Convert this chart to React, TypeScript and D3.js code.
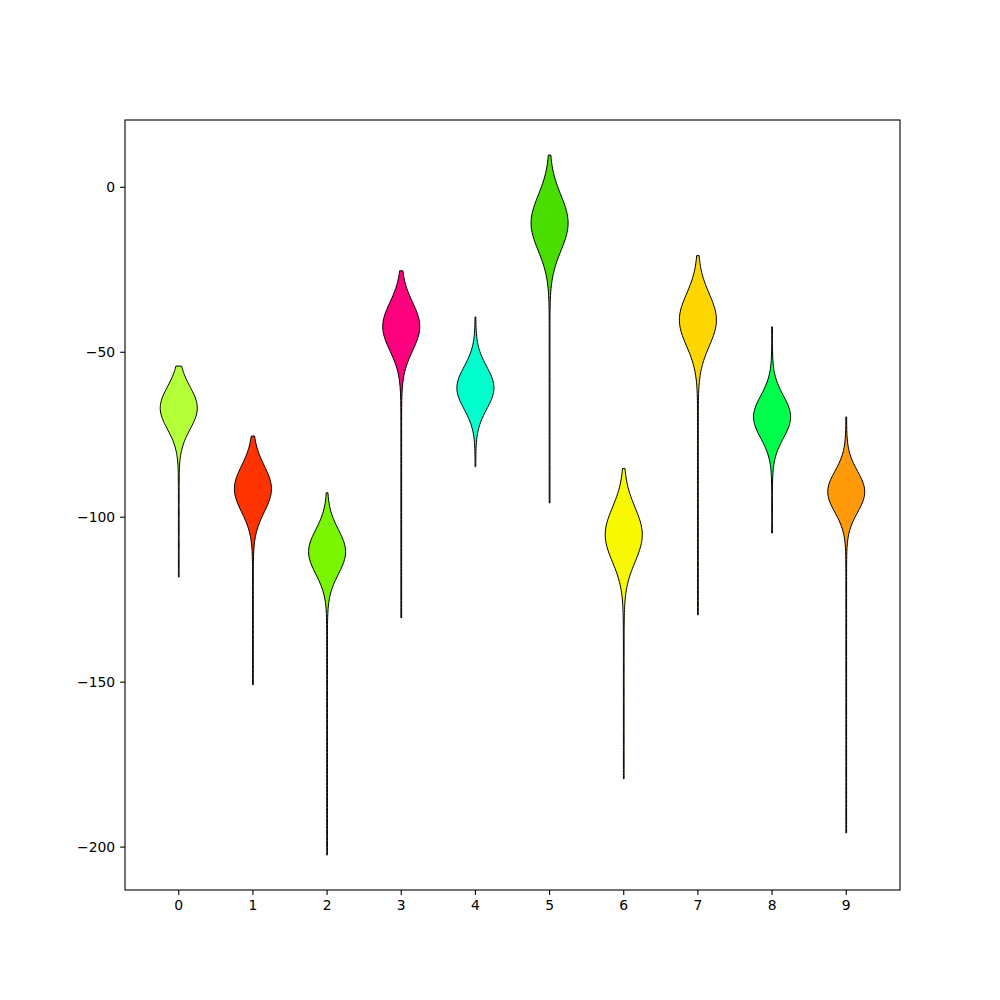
import React from "react";
import * as d3 from "d3";

// Per-violin values (data units)
const categories = [0, 1, 2, 3, 4, 5, 6, 7, 8, 9];
const maxVals = [-54.2, -75.4, -92.6, -25.3, -39.3, 9.8, -85.2, -20.7, -42.3, -69.6];
const modeVals = [-66.9, -91.4, -110.5, -42.2, -60.8, -10.8, -105.3, -40.2, -69.6, -92.3];
const spreadVals = [6.4, 7.0, 6.7, 7.3, 6.4, 8.4, 8.2, 7.9, 6.4, 6.2];
const minVals = [-118.1, -150.8, -202.4, -130.5, -84.7, -95.7, -179.3, -129.6, -104.8, -195.7];
const colors = [
  "#b3ff38",
  "#ff3300",
  "#7af500",
  "#ff007f",
  "#00ffcc",
  "#4ade00",
  "#f8f800",
  "#ffd700",
  "#00ff4c",
  "#ff9a0b",
];
const yTicks = [0, -50, -100, -150, -200];

const W = 1000;
const H = 1000;
const M = { left: 125, right: 100, top: 120, bottom: 110 };

export default function App() {
  const x = d3
    .scaleLinear()
    .domain([-0.725, 9.725])
    .range([M.left, W - M.right]);
  const dataMin = d3.min(minVals) as number;
  const dataMax = d3.max(maxVals) as number;
  const pad = (dataMax - dataMin) * 0.05;
  const y = d3
    .scaleLinear()
    .domain([dataMin - pad, dataMax + pad])
    .range([H - M.bottom, M.top]);

  const halfWidth = 0.25;
  const floor = 0.02;

  const violins = categories.map((c, i) => {
    const lo = minVals[i];
    const hi = maxVals[i];
    const pts = d3.range(100).map((k) => lo + ((hi - lo) * k) / 99);
    const prof = pts.map((t) => {
      const g = Math.exp(-((t - modeVals[i]) ** 2) / (2 * spreadVals[i] ** 2));
      return { t, w: (halfWidth * (g + floor)) / (1 + floor) };
    });
    const area = d3
      .area<{ t: number; w: number }>()
      .x0((d) => x(c - d.w))
      .x1((d) => x(c + d.w))
      .y((d) => y(d.t));
    return { c, d: area(prof) as string, color: colors[i] };
  });

  const font = "'DejaVu Sans', sans-serif";
  const fs = 13.9;
  const tick = 4.9;

  return (
    <svg
      width={W}
      height={H}
      style={{ position: "absolute", left: 0, top: 0, background: "#fff" }}
      fontFamily={font}
    >
      <rect x={0} y={0} width={W} height={H} fill="#fff" />
      {violins.map((v) => (
        <path
          key={v.c}
          d={v.d + "Z"}
          fill={v.color}
          stroke="#000"
          strokeWidth={1}
          strokeLinejoin="miter"
        />
      ))}
      <rect
        x={M.left}
        y={M.top}
        width={W - M.left - M.right}
        height={H - M.top - M.bottom}
        fill="none"
        stroke="#000"
        strokeWidth={1.1}
      />
      {yTicks.map((t) => (
        <g key={t}>
          <line
            x1={M.left - tick}
            x2={M.left}
            y1={y(t)}
            y2={y(t)}
            stroke="#000"
            strokeWidth={1.1}
          />
          <text
            x={M.left - tick - 4.9}
            y={y(t)}
            dy="0.36em"
            textAnchor="end"
            fontSize={fs}
            fill="#000"
          >
            {t < 0 ? "\u2212" + Math.abs(t) : String(t)}
          </text>
        </g>
      ))}
      {categories.map((c) => (
        <g key={c}>
          <line
            x1={x(c)}
            x2={x(c)}
            y1={H - M.bottom}
            y2={H - M.bottom + tick}
            stroke="#000"
            strokeWidth={1.1}
          />
          <text
            x={x(c)}
            y={H - M.bottom + tick + 4.9}
            dy="0.76em"
            textAnchor="middle"
            fontSize={fs}
            fill="#000"
          >
            {String(c)}
          </text>
        </g>
      ))}
    </svg>
  );
}
